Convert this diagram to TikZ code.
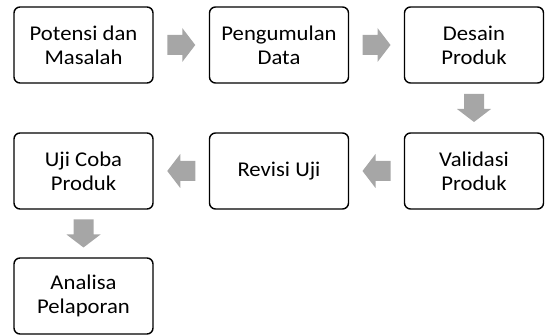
\documentclass[tikz,border=0pt]{standalone}
\usepackage{fontspec}
\setmainfont{Carlito}[FakeStretch=1.08]
\usetikzlibrary{calc}
\definecolor{arrowgray}{HTML}{A6A6A6}
\tikzset{
  stepbox/.style={draw=black, line width=1.4pt, rounded corners=6pt, minimum width=139pt, minimum height=76pt, align=center, inner sep=0pt, font=\fontsize{21}{24}\selectfont},
  blockarrow/.pic={\fill[arrowgray] (-14,-10) -- (1,-10) -- (1,-17) -- (14,0) -- (1,17) -- (1,10) -- (-14,10) -- cycle;}
}
\begin{document}
\begin{tikzpicture}[x=1pt,y=-1pt]
\useasboundingbox (0,0) rectangle (545,336);
\node[stepbox] (a) at (83.5,45) {Potensi dan\\Masalah};
\node[stepbox] (b) at (279,45) {Pengumulan\\Data};
\node[stepbox] (c) at (474,45) {Desain\\Produk};
\node[stepbox] (d) at (474,171) {Validasi\\Produk};
\node[stepbox] (e) at (279,171) {Revisi Uji};
\node[stepbox] (f) at (83.5,171) {Uji Coba\\Produk};
\node[stepbox] (g) at (83.5,296) {Analisa\\Pelaporan};
\pic at ($(a.east)!0.5!(b.west)$) {blockarrow};
\pic at ($(b.east)!0.5!(c.west)$) {blockarrow};
\pic[rotate=-90] at ($(c.south)!0.5!(d.north)$) {blockarrow};
\pic[rotate=180] at ($(d.west)!0.5!(e.east)$) {blockarrow};
\pic[rotate=180] at ($(e.west)!0.5!(f.east)$) {blockarrow};
\pic[rotate=-90] at ($(f.south)!0.5!(g.north)$) {blockarrow};
\end{tikzpicture}
\end{document}
